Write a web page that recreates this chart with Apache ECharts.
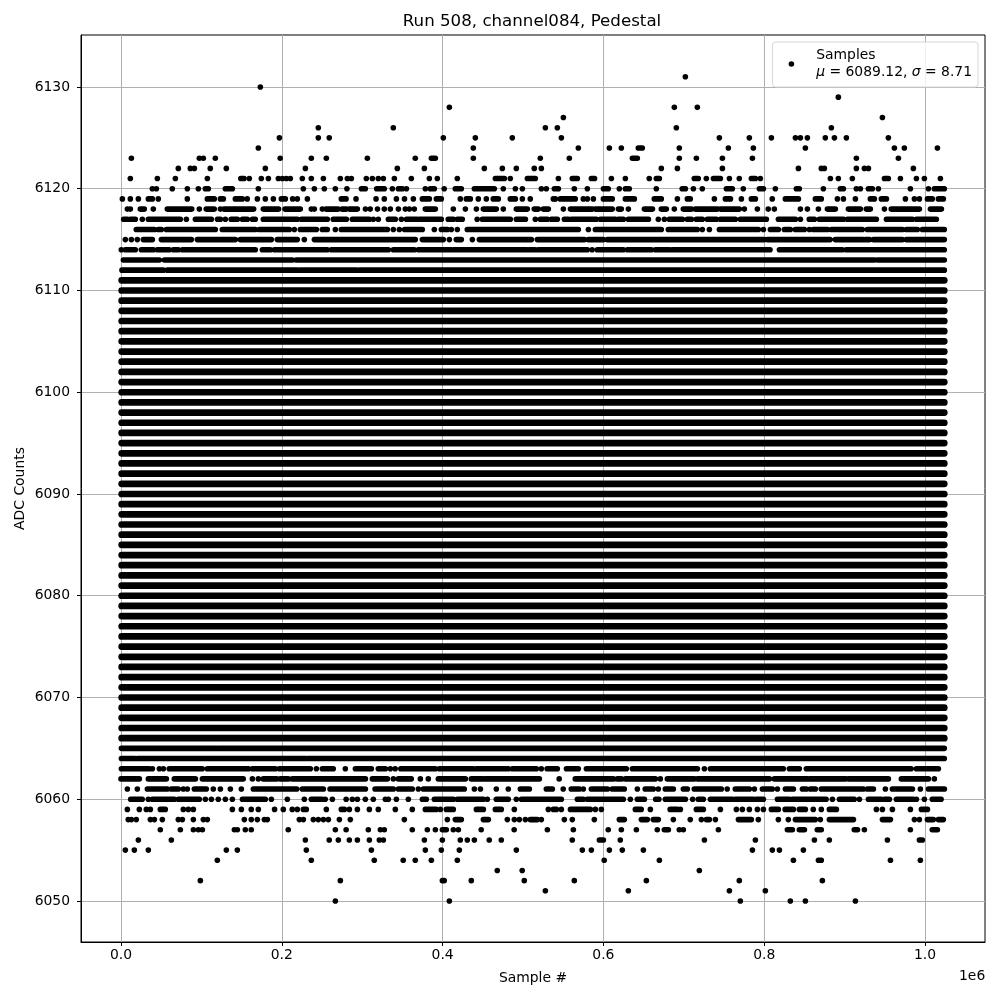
<!DOCTYPE html>
<html><head><meta charset="utf-8">
<style>html,body{margin:0;padding:0;background:#fff}#c{width:1000px;height:1000px}</style>
<script src="https://cdn.jsdelivr.net/npm/echarts@6/dist/echarts.min.js"></script>
</head><body><div id="c"></div>
<script>
// Sample numbers in thousands for each ADC count. A number is one sample; a [from, to] pair is an unbroken run of samples.
const row6131=[701.9];
const row6130=[173.3];
const row6129=[892.2];
const row6128=[408.4,688.2,716.8];
const row6127=[550.2,947];
const row6126=[245.4,338.7,527.8,542.7,690.7,883.5];
const row6125=[197,245.4,259,400.9,440.7,486.7,547.7,744.2,781.5,808.9,838.8,845,853.7,876,887.3,902.2,954.4];
const row6124=[170.8,438.2,568.8,607.4,622.3,[643.4,648.4],694.4,755.4,786.5,851.2,961.9,974.3,1015.4];
const row6123=[12.9,97.4,102.4,117.3,198,236.7,255.4,306.4,366,[386,391],438.2,521.5,557.6,[636,642.2],694.4,715.6,748,785.3,914.6,966.9];
const row6122=[71.3,86.2,91.2,111,131,179.5,229.3,343.7,377.3,451.9,474.3,491.7,514,522.8,672,692,748,842.5,871,874.8,914.6,924.6,929.6,985.5];
const row6121=[11.6,45.2,67.6,107.4,[149,153],159.6,174.5,183.3,195.7,200.7,205.6,210.6,225.5,236.7,251.7,272.8,281.5,286.5,305.1,312.6,320,326.3,340,361.1,383.5,393.4,418.3,[465.6,476.8],484.2,[505.4,515.3],544,[561.3,567.6],[585,589],609.9,627.3,657,[665.8,669.6],[713,718],728,[736.8,745.5],756.7,769,[784,789],795.2,882.3,892.2,909.6,[949.5,954.4],969.4,989.3,999.2,1019.1];
const row6120=[39,44,63.8,82.5,96.2,[104.9,108.6],[129.8,138.5],170.8,226.8,240.5,252.9,266.6,281,[299,303.9],[318,327.5],337.5,[345,350],355,378.5,[384.7,389.7],402,[415.8,423.3],[439.5,464.3],475.5,490.5,499.2,522.8,529,[539,544],563.8,580,[600,606],619.8,[627.3,632.2],665.8,[698,702],711.9,723,[753,760.4],774,[794,799],813.9,[840,843.7],873.6,[894.7,898.5],914.6,919.6,[929.6,934.5],942,981.8,1004.2,[1011.6,1024]];
const row6119=[1.7,11.6,21.6,[34,39],46.4,82.5,[107.4,116],[123.6,127.3],[142.2,150.9],157,169.6,179.5,189.5,[199.4,204.4],213.5,219.3,231.8,[274,279.9],292.3,317.2,327.5,342.5,352.6,363.6,[374.8,383.5],[392.2,398.4],422,[429.5,434.5],444.4,454.4,[463,469.3],[484.2,490.5],499.2,509,537.7,540.2,[546.4,565],575,580,587.5,[600,611],[627.3,638.5],[663.3,672],692,[704.4,708],738,[751.7,758],771.6,[784,789],810,[826.3,842.5],[863.6,871],891,898.5,913.4,[932,937],[945.7,952],975.6,986.8,993,[1003,1009],[1016.6,1022.8]];
const row6118=[7.9,11.6,[24,29],40.2,[57.6,88],97.4,[106,116],123.6,[128,165],[177,196],[204,223],236.7,240.5,250.4,[255,270],[275,280],[284,294],304,310,319,327.5,335,345,353.6,358.6,364.8,[378.5,391],413.3,428.3,442,[450.7,466.8],475.5,[491.7,505.4],[514,519],[525.3,531.5],550.2,[559,586.2],[590,611],[618.6,622.3],631,[651,661],[672,678.3],688.2,[699.4,709.4],[714.3,741.7],[745.5,769],775.3,791.5,805,812.6,845,853.7,867.4,[878.6,888.5],[904.7,919.6],[927,932],949.5,[958,993],[1006.7,1020.4]];
const row6117=[[3.3,7.9],[11.6,17.8],26.5,[34,73.8],81.3,[92.5,112.4],[120,123.6],129.8,[137,144.7],[151,157],[163.4,167],[177,219.3],[224.3,256.6],[264,280.3],[287.7,308.9],313.8,320,[332.5,341.2],348.7,[355,368.6],[371,398.4],[407,413.3],[418.3,424.5],443,[449.4,484.2],[491.7,503],515.3,[521.5,530.3],[535.2,542.7],[551.4,556.4],[560,591.2],[596.2,614.8],[618.6,624.8],[631,656],668.3,675.8,[682,698.2],[704.4,709.4],[715.6,723],[729.3,740.5],[745.5,764],[770.3,802.7],[817.6,838.8],845,[856,862.4],[868.6,898.5],[903.4,939.5],[952,984.3],[989.3,1014.1]];
const row6116=[[19,41.5],[46.4,50.2],[56.4,117.3],[126,167],[172,209.4],215.6,[223,243],[250.4,256.6],266.6,[274,331.3],338.7,346.2,[352.8,374.8],389.7,[398.4,405.9],410.8,418.3,[430.7,568.8],581.3,[590,672],[680.7,716.8],723,731.8,[744.2,792.7],799,[807.7,817.6],[825,832.5],[838.8,850],856.2,[861,878.6],[883.5,922],[928.3,971.8],[976.8,990.5],[996.7,1024]];
const row6115=[5.4,12.9,20.3,[27.8,39],[50.2,87.5],[95,142.2],[148.4,187],[194.4,219.3],228,[240.5,366],[374.8,400.9],408.4,[417,423.3],437,[445.7,510.4],[517.8,576.3],[581.3,600],[605,800.2],[804,881.9],[888.5,923.3],[925.8,930.8],[935.8,971.8],[976.8,1024]];
const row6114=[0.4,[5.4,17.8],[25.3,40.2],[45.2,60],[65,71.3],[76.3,167],[175.8,185.7],[190.7,256.6],[261.6,332.5],[338.7,364.8],[369.8,410.8],[413.3,504.5],[508,515],[519,580],586,[592.4,624.8],[629.8,659.6],[664.6,682],[685.7,807.2],[818.9,897.2],[902,1024]];
const row6113=[[3,47.7],[54,213],[218,937],[940.7,1024]];
const row6112=[[1.2,52.7],[57.6,219.3],[223,292.7],[296.4,1024]];
// ADC counts whose samples form one unbroken band across the whole run
const solidCounts=[6111,6110,6109,6108,6107,6106,6105,6104,6103,6102,6101,6100,6099,6098,6097,6096,6095,6094,6093,6092,6091,6090,6089,6088,6087,6086,6085,6084,6083,6082,6081,6080,6079,6078,6077,6076,6075,6074,6073,6072,6071,6070,6069,6068,6067,6066];
const solidSpan=[0.8,1024];
const row6065=[[0.5,119],[121,1024]];
const row6064=[[0.5,17.4],[20.3,229.7],[232,1024]];
const row6063=[[0.5,35],39,47.7,52.7,[60,101],[107.4,158.4],[163.4,192],[197,235.5],243,[250.4,264],279,[291.5,311.4],[320,328.8],335,341,[348,391],[396,438],[442,481.7],[486.7,516.6],522.8,[530,542.7],[554,568.8],[578.8,628.5],[636,716.9],725.6,[733,823.8],[831.3,843.7],[852.4,982.6],[989.3,1016.6]];
const row6062=[[0,22.8],[34,56.4],[66.3,90],92.5,[101.2,152],163.4,170.8,[177,193.6],[198,208],[213,304],[312.6,331.3],338.7,[345,361],372.3,382.2,[394.7,428.3],[435.7,450.7],[453,520.3],545,[565,612.3],[617.3,622.3],[627.3,664.6],670.8,[679.5,713],[716.9,806.4],[812.6,853.7],[856,901],[904.7,954.4],[970.6,1004.2],1011.6];
const row6061=[7.9,20.3,[32.8,57.6],[62.6,71.3],77.5,82.5,[91.2,106.1],114.8,123.6,136,149.7,[164.6,218.5],[225.5,251.7],[260,304],[316,338.7],[345,362.3],369.8,[376,427],439.5,447,466.8,481.7,[496.7,507.9],[529,536.5],550,[560,570],575,[585,605],[611,626],642.2,[652,662],668.3,[677,687],[699.4,704.4],[713,746.7],754,[764,781.5],787.8,[797.7,810],816.4,[826.3,836.3],[847.5,852.4],[857.4,863.6],[871,923.3],[928.3,935.8],950.7,[959.4,984.3],994.2,[1004.2,1024.1]];
const row6060=[[12,26.4],34,[39,66.3],[71.3,97.4],104.9,112.4,121,129.8,138.5,[151,179.5],187,206.9,228,[236.7,250.4],254,262.9,280,287.7,294,303.9,313.8,328.8,332.5,342.5,357.4,[374.8,379.8],[389.7,413.3],[418.3,450.7],455.6,[466.8,481.7],491.7,[498,547.7],[567.6,575],[580,624.8],633.5,[642.2,651],[665,669],[677,702],711,[718,724.3],[733,760.4],[764,786.5],[790,799],[816.4,831.3],[835,877],884.8,[893.5,912],918.4,[929.6,945.7],[949.5,955.7],[964.4,985.5],989.3,999.2,[1009,1020]];
const row6059=[7.9,22.8,31.5,36.5,[48.9,55.1],77.5,83.8,90,138.5,149.7,162,170.8,191,201.9,213,219.3,[226.8,230.5],255.4,[274,277.8],284,294,308.9,320,341.2,362.3,[378.5,392],397.2,[404.6,413.3],[442,450.7],[465.6,473],489.2,531.5,[537.7,541.5],547.7,[559,583.7],590,597.4,[639.7,647],658.4,[683,692],695.7,[715.6,724.3],745.5,765.4,772.8,781.5,791.5,799,[808.9,817.6],[826,836.3],[843.7,851.2],861,871,[881,889.8],939.5,947,959.4,981.8,[995.5,1003]];
const row6058=[9,12.9,19,36.5,41.5,51.4,71.3,76.3,90,102.4,107.4,153.4,162,169.6,178.3,182,221.8,226.8,239.2,245.4,251.7,257.9,271.6,285.2,352.4,405.9,[415.8,423.3],[450.7,456.9],480.5,489.2,495.4,502.9,[509,517.8],522.8,551.4,561.3,588.7,[619.8,626],[647.2,654.6],[662,668.3],687,708,721.8,[728,731.8],739.3,[767.9,784],792.7,817.6,830,[838.8,863.6],869.8,[881,911],[947,957],986.8,993,[1003,1010.4],[1016.6,1022.8]];
const row6057=[48.9,73.8,90,96.2,101.2,141,144.7,154.6,162,208,266.6,280,307.6,322.6,327.5,362.3,381,391,[399.7,404.6],413.3,419.6,448,489,530.3,562.6,606,622.3,641,667,[675.8,680.8],694.4,699.4,743,[828.8,835],[843.7,850],[866,871],[912,916],924.6,981.8,[1009,1015.4]];
const row6056=[21.6,62.6,229.3,259,270.3,284,294,308.9,321.3,326.3,377.3,399.7,422,430.7,439.5,458,473,561.3,[595,600],621,725.6,789,862.4,881,953.2,[993,996.7]];
const row6055=[5.4,16.6,34,131,144.7,230.5,311.4,378.5,398.4,420.8,491.7,573.8,585,607.4,623.5,649.7,785.3,810.1,818.9,848.7];
const row6054=[119.8,236.7,315,351,366,386,418.3,601,669.6,836.3,[867.4,871],957,994.2];
const row6053=[468,499,719.3];
const row6052=[98.7,272.8,[399.7,402],435.7,501.6,563.8,653.4,769,872.3];
const row6051=[527.8,631,756.7,801.4];
const row6050=[266.6,408.4,770.3,832.5,851.2,913.4];

const sparseRows=[[6131,row6131],[6130,row6130],[6129,row6129],[6128,row6128],[6127,row6127],[6126,row6126],[6125,row6125],[6124,row6124],[6123,row6123],[6122,row6122],[6121,row6121],[6120,row6120],[6119,row6119],[6118,row6118],[6117,row6117],[6116,row6116],[6115,row6115],[6114,row6114],[6113,row6113],[6112,row6112],[6065,row6065],[6064,row6064],[6063,row6063],[6062,row6062],[6061,row6061],[6060,row6060],[6059,row6059],[6058,row6058],[6057,row6057],[6056,row6056],[6055,row6055],[6054,row6054],[6053,row6053],[6052,row6052],[6051,row6051],[6050,row6050]];

const xTicks=[0,200000,400000,600000,800000,1000000];
const yTicks=[6050,6060,6070,6080,6090,6100,6110,6120,6130];
const titleText='Run 508, channel084, Pedestal';
const xName='Sample #';
const yName='ADC Counts';
const legendName='Samples';

const FONT='"DejaVu Sans"';
const dots=[],runs=[],solid=[];
sparseRows.forEach(([y,row])=>row.forEach(v=>{
  if(Array.isArray(v)){runs.push([v[0]*1000,y],[v[1]*1000,y],[NaN,NaN]);}
  else dots.push([v*1000,y]);
}));
solidCounts.forEach(y=>{solid.push([solidSpan[0]*1000,y],[solidSpan[1]*1000,y],[NaN,NaN]);});

const chart=echarts.init(document.getElementById('c'),null,{renderer:'canvas',width:1000,height:1000});
const axisCommon={
  axisLine:{show:true,onZero:false,lineStyle:{color:'#000',width:1}},
  axisTick:{show:true,length:4,inside:false,lineStyle:{color:'#000',width:1}},
  splitLine:{show:true,lineStyle:{color:'#b0b0b0',width:1}},
  nameLocation:'middle',
  nameMoveOverlap:false,
  nameTextStyle:{fontFamily:FONT,fontSize:13.9,color:'#000'},
};
chart.setOption({
  animation:false,
  backgroundColor:'#fff',
  title:{text:titleText,left:527,top:8,textAlign:'center',textStyle:{fontFamily:FONT,fontSize:16.67,fontWeight:'normal',color:'#000'}},
  grid:{left:81,right:15,top:35,bottom:58,containLabel:false,outerBoundsMode:'none',show:true,borderColor:'#000',borderWidth:1,backgroundColor:'transparent'},
  xAxis:Object.assign({},axisCommon,{
    type:'value',min:-49750,max:1074600,name:xName,nameGap:29,
    axisTick:Object.assign({},axisCommon.axisTick,{customValues:xTicks}),
    axisLabel:{customValues:xTicks,margin:6.5,fontFamily:FONT,fontSize:13.9,color:'#000',formatter:v=>(v/1e6).toFixed(1)}
  }),
  yAxis:Object.assign({},axisCommon,{
    type:'value',min:6045.97,max:6135.11,name:yName,nameGap:54,
    axisTick:Object.assign({},axisCommon.axisTick,{customValues:yTicks}),
    axisLabel:{customValues:yTicks,margin:11,fontFamily:FONT,fontSize:13.9,color:'#000',formatter:v=>String(v)}
  }),
  legend:{
    data:[{name:legendName,icon:'circle',itemStyle:{opacity:1}}],right:22,top:42,orient:'horizontal',
    itemWidth:5.6,itemHeight:5.6,itemGap:0,padding:[5,6,6,16],
    backgroundColor:'rgba(255,255,255,0.8)',borderColor:'#d6d6d6',borderWidth:1,borderRadius:3,
    selectedMode:false,
    formatter:()=>'Samples\n{i|μ} = 6089.12, {i|σ} = 8.71',
    textStyle:{fontFamily:FONT,fontSize:13.9,color:'#000',lineHeight:17,padding:[0,0,0,17],
      rich:{i:{fontFamily:FONT,fontStyle:'italic',fontSize:13.9,color:'#000'}}}
  },
  graphic:[{type:'text',left:959,top:969,style:{text:'1e6',fontFamily:FONT,fontSize:13.9,fill:'#000'}}],
  series:[
    {name:'solid',type:'line',data:solid,showSymbol:false,connectNulls:false,silent:true,lineStyle:{color:'#000',width:6.7,cap:'round'},z:3},
    {name:'runs',type:'line',data:runs,showSymbol:false,connectNulls:false,silent:true,lineStyle:{color:'#000',width:5.6,cap:'round'},z:3},
    {name:legendName,type:'scatter',data:dots,symbol:'circle',symbolSize:5.6,itemStyle:{color:'#000',opacity:1},silent:true,z:4}
  ]
});
</script></body></html>
